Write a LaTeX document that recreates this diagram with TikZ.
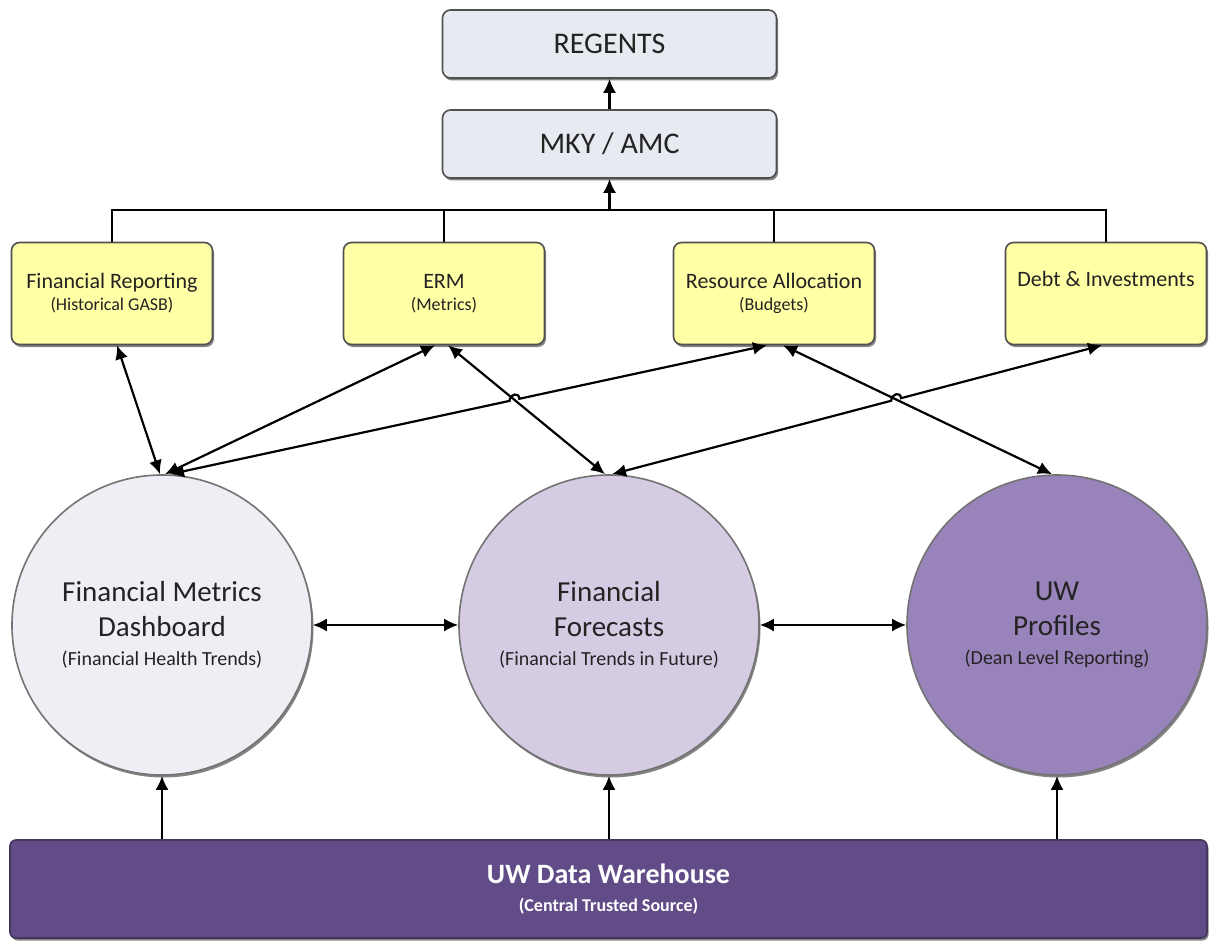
\documentclass[tikz,border=0pt]{standalone}
\usepackage{fontspec}
\setmainfont{Carlito}
\usetikzlibrary{arrows.meta,shadows,calc,intersections}
\definecolor{topfill}{RGB}{231,235,241}
\definecolor{yfill}{RGB}{255,255,166}
\definecolor{cafill}{RGB}{238,238,245}
\definecolor{cbfill}{RGB}{213,204,228}
\definecolor{ccfill}{RGB}{152,131,187}
\definecolor{barfill}{RGB}{97,76,136}
\definecolor{edge}{RGB}{80,80,80}
\definecolor{txt}{RGB}{35,35,35}
\begin{document}
\begin{tikzpicture}[x=1pt,y=-1pt,
  shad/.style={drop shadow={shadow xshift=1.5pt,shadow yshift=-2.5pt,opacity=0.6,fill=black!80}},
  topbox/.style={draw=edge,line width=1.6pt,fill=topfill,rounded corners=8pt,
    minimum width=334pt,minimum height=68pt,shad,text=txt,
    font=\fontsize{30}{36}\selectfont},
  ybox/.style={draw=edge,line width=1.6pt,fill=yfill,rounded corners=8pt,
    minimum width=201pt,minimum height=102pt,shad,text=txt,align=center,
    font=\fontsize{22}{24}\selectfont},
  circ/.style={circle,draw=edge!80,line width=1.6pt,minimum size=300pt,shad,
    text=txt,align=center,font=\fontsize{29}{35}\selectfont},
  bar/.style={draw=barfill!70!black,line width=1.6pt,fill=barfill,rounded corners=6pt,
    minimum width=1197pt,minimum height=98pt,shad,text=white,align=center,
    font=\bfseries\fontsize{28}{26}\selectfont},
  conn/.style={line width=2.2pt,black},
  arr/.style={conn,-{Latex[length=14pt,width=13pt]}},
  biarr/.style={conn,{Latex[length=14pt,width=13pt]}-{Latex[length=14pt,width=13pt]}},
]
\useasboundingbox (0,0) rectangle (1210,941);
\fill[white] (0,0) rectangle (1210,941);

% top boxes
\node[topbox] (reg) at (609.5,44) {REGENTS};
\node[topbox] (mky) at (609.5,144) {MKY / AMC};

% yellow boxes
\node[ybox] (fr) at (112,293.5) {Financial Reporting\\[-2pt]{\fontsize{18}{22}\selectfont (Historical GASB)}};
\node[ybox] (erm) at (444,293.5) {ERM\\[-2pt]{\fontsize{18}{22}\selectfont (Metrics)}};
\node[ybox] (ra) at (774,293.5) {Resource Allocation\\[-2pt]{\fontsize{18}{22}\selectfont (Budgets)}};
\node[ybox] (dai) at (1106,293.5) {Debt \& Investments\\[-2pt]{\fontsize{18}{22}\selectfont\strut}};

% circles
\node[circ,fill=cafill] (c1) at (162,625) {Financial Metrics\\Dashboard\\[-6pt]{\fontsize{20}{24}\selectfont (Financial Health Trends)}};
\node[circ,fill=cbfill] (c2) at (609,625) {Financial\\Forecasts\\[-6pt]{\fontsize{20}{24}\selectfont (Financial Trends in Future)}};
\node[circ,fill=ccfill] (c3) at (1057,625) {UW\\Profiles\\[-6pt]{\fontsize{20}{24}\selectfont (Dean Level Reporting)}};

% warehouse bar
\node[bar] (dw) at (608.5,889) {UW Data Warehouse\\[2pt]{\fontsize{18}{22}\selectfont (Central Trusted Source)}};

% bus to MKY / AMC
\coordinate (bus) at (609.5,210);
\draw[conn] (fr.north) |- (bus) -| (dai.north);
\draw[conn] (erm.north) -- (erm.north |- bus);
\draw[conn] (ra.north) -- (ra.north |- bus);
\draw[arr] (bus) -- (mky.south);
\draw[arr] (mky.north) -- (reg.south);

% attachment points
\coordinate (frb) at ($(fr.south)+(5,0)$);
\coordinate (ermL) at ($(erm.south)+(-9,0)$);
\coordinate (ermR) at ($(erm.south)+(4,0)$);
\coordinate (raL) at ($(ra.south)+(-7,0)$);
\coordinate (raR) at ($(ra.south)+(9,0)$);
\coordinate (daib) at ($(dai.south)+(-4,0)$);
\coordinate (c1a) at ($(c1.north)+(-2,0)$);
\coordinate (c1b) at ($(c1.north)+(3,0)$);
\coordinate (c1c) at ($(c1.north)+(8,0)$);
\coordinate (c2a) at ($(c2.north)+(-4,0)$);
\coordinate (c2b) at ($(c2.north)+(3,0)$);
\coordinate (c3a) at ($(c3.north)+(-5,0)$);

% diagonal connectors
\draw[biarr] (frb) -- (c1a);
\draw[biarr] (ermL) -- (c1b);
\draw[biarr,name path=p4] (ermR) -- (c2a);
\draw[biarr,name path=p6] (raR) -- (c3a);
\path[name path=p3] (raL) -- (c1c);
\path[name path=p5] (daib) -- (c2b);
\path[name intersections={of=p3 and p4,by=X1}];
\path[name intersections={of=p5 and p6,by=X2}];
\draw[biarr] (raL) -- ($(X1)!5pt!(raL)$) .. controls +(0,-7) and +(0,-7) .. ($(X1)!5pt!(c1c)$) -- (c1c);
\draw[biarr] (daib) -- ($(X2)!5pt!(daib)$) .. controls +(0,-7) and +(0,-7) .. ($(X2)!5pt!(c2b)$) -- (c2b);

% circle links
\draw[biarr] (c1.east) -- (c2.west);
\draw[biarr] (c2.east) -- (c3.west);

% warehouse to circles
\draw[arr] (dw.north -| c1.south) -- (c1.south);
\draw[arr] (dw.north -| c2.south) -- (c2.south);
\draw[arr] (dw.north -| c3.south) -- (c3.south);
\end{tikzpicture}
\end{document}
